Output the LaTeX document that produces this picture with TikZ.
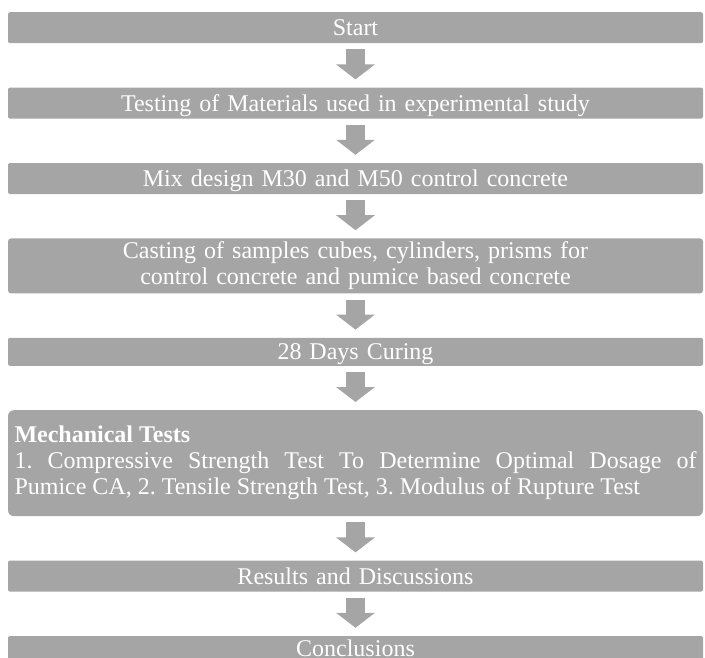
\documentclass[tikz,border=0pt]{standalone}
\usepackage{fontspec}
\setmainfont{Liberation Serif}
\usepackage{tikz}
\definecolor{stepgray}{RGB}{165,165,165}
\usetikzlibrary{arrows.meta,positioning}
\frenchspacing

\begin{document}
\begin{tikzpicture}[
    x=1pt, y=1pt,
    node distance=44pt,
    box/.style={rectangle, rounded corners=2pt, minimum width=695pt, minimum height=31pt, text width=679pt, align=center, inner xsep=8pt, inner ysep=2pt, fill=stepgray, text=white, font=\fontsize{24}{26}\selectfont},
    onebox/.style={box, text depth=0pt},
    arrow/.style={-{Triangle[width=38pt,length=15pt]}, line width=19pt, draw=stepgray, shorten <=6pt, shorten >=8pt}
]
\useasboundingbox (0,0) rectangle (705,-657);

% Preparation
\node[onebox, anchor=north] (start) at (355.5,-12) {Start};
\node[onebox, below=of start] (testing) {Testing of Materials used in experimental study};
\node[onebox, below=of testing] (mix) {Mix design M30 and M50 control concrete};
\node[box, rounded corners=3pt, minimum height=55pt, below=of mix] (casting) {Casting of samples cubes, cylinders, prisms for\\control concrete and pumice based concrete};
\node[onebox, minimum height=28pt, below=of casting] (curing) {28 Days Curing};

% Testing stage
\node[box, rounded corners=6pt, minimum height=106pt, align=justify, text width=682pt, inner xsep=6.5pt, below=of curing] (mech) {\textbf{Mechanical Tests}\\1. Compressive Strength Test To Determine Optimal Dosage of\linebreak Pumice CA, 2. Tensile Strength Test, 3. Modulus of Rupture Test};

% Outcome
\node[onebox, below=of mech] (results) {Results and Discussions};
\node[onebox, minimum height=24pt, below=of results] (concl) {Conclusions};

% Arrows
\draw[arrow] (start) -- (testing);
\draw[arrow] (testing) -- (mix);
\draw[arrow] (mix) -- (casting);
\draw[arrow] (casting) -- (curing);
\draw[arrow] (curing) -- (mech);
\draw[arrow] (mech) -- (results);
\draw[arrow] (results) -- (concl);

\end{tikzpicture}
\end{document}
